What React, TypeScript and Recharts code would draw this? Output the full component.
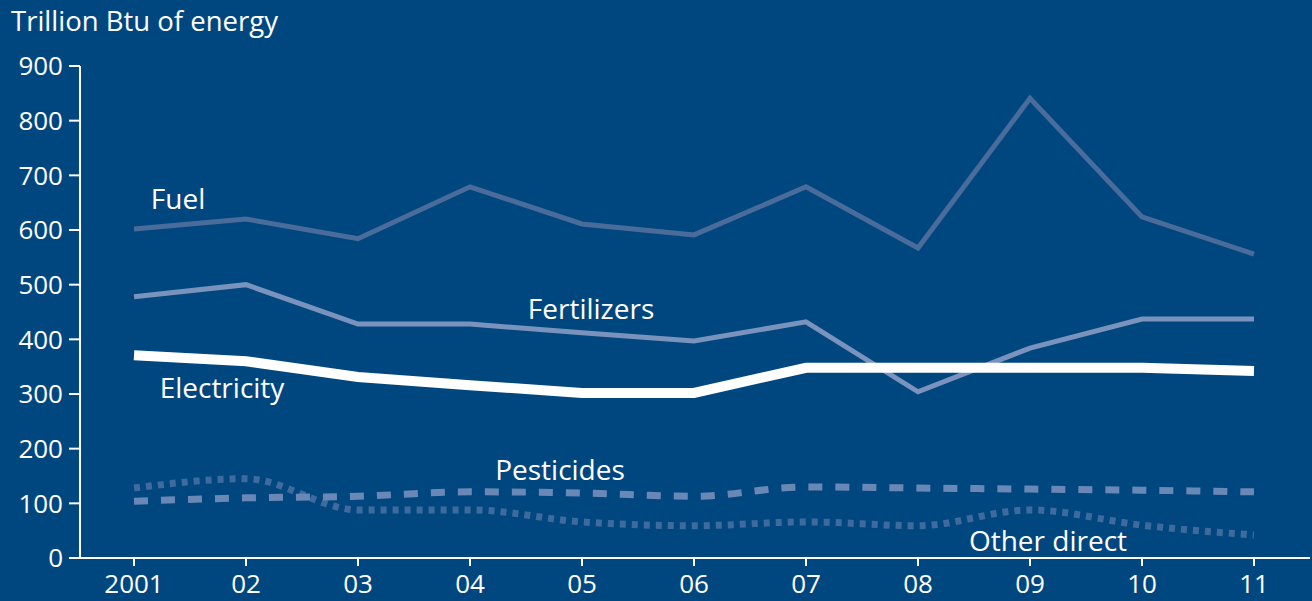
import { LineChart, Line, XAxis, YAxis, ReferenceDot } from 'recharts';

// ─── data ─────────────────────────────────────────────────────────────────────

const years = ['2001', '02', '03', '04', '05', '06', '07', '08', '09', '10', '11'];
const fuel = [602, 620, 584, 679, 611, 591, 679, 567, 841, 624, 556];
const fertilizers = [478, 500, 428, 428, 412, 397, 432, 304, 384, 437, 437];
const electricity = [371, 360, 331, 316, 302, 302, 348, 348, 348, 348, 342];
const pesticides = [104, 110, 113, 121, 119, 113, 130, 128, 126, 124, 121];
const otherDirect = [128, 145, 88, 88, 66, 59, 66, 59, 88, 60, 42];
const yTicks = [0, 100, 200, 300, 400, 500, 600, 700, 800, 900];

// series labels placed in data space (category, value) plus small pixel nudge
const seriesLabels = [
  { text: 'Fuel', x: '2001', y: 657, dx: 44 },
  { text: 'Fertilizers', x: '05', y: 455, dx: 9 },
  { text: 'Electricity', x: '02', y: 311, dx: -24 },
  { text: 'Pesticides', x: '05', y: 161, dx: -22 },
  { text: 'Other direct', x: '09', y: 31, dx: 18 },
];

// ─── style ────────────────────────────────────────────────────────────────────

const BG = '#01477f';
const FONT = '"Open Sans", sans-serif';
const TICK = { fontSize: 26, fill: '#ffffff', fontFamily: FONT };
const AXIS_LINE = { stroke: '#ffffff', strokeWidth: 2 };

export default function App() {
  const data = years.map((y, i) => ({
    year: y,
    fuel: fuel[i],
    fertilizers: fertilizers[i],
    electricity: electricity[i],
    pesticides: pesticides[i],
    other: otherDirect[i],
  }));

  return (
    <div style={{
      position: 'fixed', left: 0, top: 0, width: 1312, height: 601,
      background: BG, fontFamily: FONT,
    }}>
      <div style={{
        position: 'absolute', left: 11, top: 2, color: '#fff', fontSize: 27.5,
        lineHeight: '38px',
      }}>
        Trillion Btu of energy
      </div>
      <LineChart
        width={1312}
        height={601}
        data={data}
        margin={{ top: 66, right: 2, left: 0, bottom: 0 }}
      >
        <XAxis
          dataKey="year"
          tick={TICK}
          axisLine={AXIS_LINE}
          tickLine={AXIS_LINE}
          tickSize={8}
          tickMargin={9}
          height={43}
          padding={{ left: 54, right: 56 }}
          interval={0}
        />
        <YAxis
          domain={[0, 900]}
          ticks={yTicks}
          tick={TICK}
          axisLine={AXIS_LINE}
          tickLine={AXIS_LINE}
          tickSize={11}
          tickMargin={6}
          width={80}
          interval={0}
        />
        <Line dataKey="fuel" type="linear" stroke="#4a6c9b" strokeWidth={5}
          dot={false} isAnimationActive={false} />
        <Line dataKey="fertilizers" type="linear" stroke="#7a93bd" strokeWidth={5}
          dot={false} isAnimationActive={false} />
        <Line dataKey="electricity" type="linear" stroke="#ffffff" strokeWidth={10}
          dot={false} isAnimationActive={false} />
        <Line dataKey="other" type="monotone" stroke="#3e6a9e" strokeWidth={7}
          strokeDasharray="6 6" dot={false} isAnimationActive={false} />
        <Line dataKey="pesticides" type="monotone" stroke="#6a88b5" strokeWidth={7}
          strokeDasharray="14 13" dot={false} isAnimationActive={false} />
        {seriesLabels.map((l) => (
          <ReferenceDot
            key={l.text}
            x={l.x}
            y={l.y}
            r={0}
            fill="none"
            stroke="none"
            label={{
              value: l.text,
              position: 'center',
              dx: l.dx,
              fill: '#ffffff',
              fontSize: 28,
              fontFamily: FONT,
            }}
          />
        ))}
      </LineChart>
    </div>
  );
}
